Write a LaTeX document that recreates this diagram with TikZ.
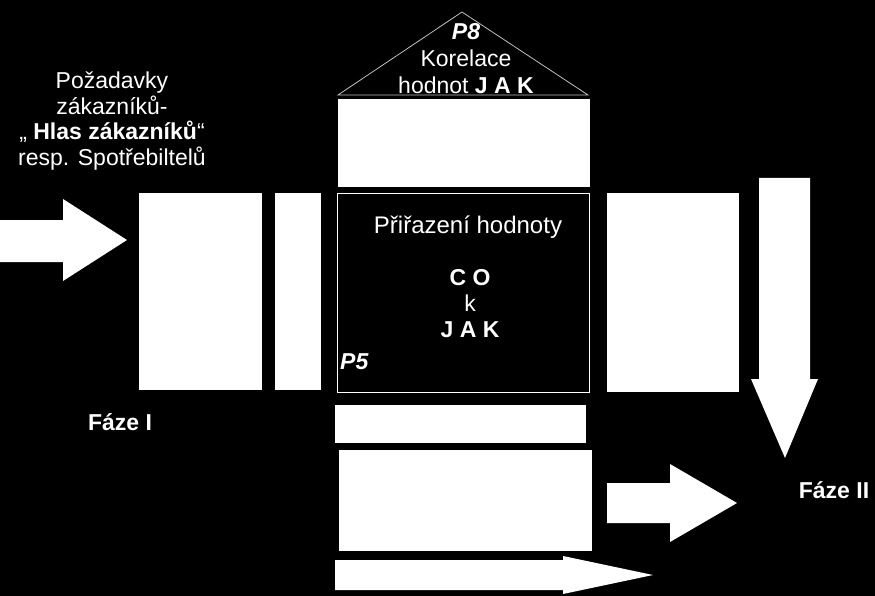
\documentclass[tikz,border=0pt]{standalone}
\usepackage{fontspec}
\setmainfont{Liberation Sans}
\usepackage{tikz}
\usetikzlibrary{positioning}

\begin{document}
\begin{tikzpicture}[x=1pt, y=-1pt,
  font=\fontsize{23}{25.5}\selectfont,
  box/.style={fill=white, inner sep=0pt, outer sep=0pt, anchor=north west},
  frame/.style={draw=white, line width=0.8pt, fill=black, inner sep=0pt, outer sep=0pt, anchor=north west},
  txt/.style={text=white, align=center, inner sep=0pt},
  blk/.style={fill=white}]
\fill[black] (0,0) rectangle (875,596);
\useasboundingbox (0,0) rectangle (875,596);
% roof
\draw[draw=white!75!black, line width=0.8pt, fill=black] (338,95) -- (462,12) -- (588,95) -- cycle;
\node[txt, font=\fontsize{23}{27}\selectfont] (roof) at (466,59)
  {\textbf{\textit{P8}}\\Korelace\\hodnot \textbf{J A K}};
% house body
\node[box, minimum width=252pt, minimum height=88pt] (hodnoty) at (338,99) {};
\node[frame, minimum width=252pt, minimum height=199pt] (matice) at (337,193) {};
\node[txt, font=\fontsize{24}{26}\selectfont] (prirazeni) at (468,227) {Přiřazení hodnoty};
\node[txt, font=\fontsize{23}{26}\selectfont] (cojak) at (470,304) {\textbf{C O}\\k\\\textbf{J A K}};
\node[txt, anchor=west] (p5) at (340,362) {\textbf{\textit{P5}}};
\node[box, minimum width=123pt, minimum height=197pt] (pozad) at (139,193) {};
\node[box, minimum width=46pt, minimum height=197pt] (vaha) at (275,193) {};
\node[box, minimum width=132pt, minimum height=199pt] (konk) at (607,193) {};
\node[box, minimum width=251pt, minimum height=38pt] (cile) at (335,405) {};
\node[box, minimum width=253pt, minimum height=101pt] (tech) at (339,450) {};
% labels
\node[txt] (hlas) at (112,121)
  {Požadavky\\zákazníků-\\„ \textbf{Hlas zákazníků}“\\resp. Spotřebiltelů};
\node[txt] (faze1) at (120,422) {\textbf{Fáze I}};
\node[txt] (faze2) at (834,490) {\textbf{Fáze II}};
% block arrows
\fill[blk] (0,220) -- (63,220) -- (63,199) -- (127,240) -- (63,281) -- (63,262) -- (0,262) -- cycle;
\fill[blk] (759,178) -- (810,178) -- (810,379) -- (818,379) -- (785,458) -- (751,379) -- (759,379) -- cycle;
\fill[blk] (607,483) -- (670,483) -- (670,464) -- (737,503) -- (670,542) -- (670,523) -- (607,523) -- cycle;
\fill[blk] (335,560) -- (563,560) -- (563,556) -- (653,575) -- (563,594) -- (563,590) -- (335,590) -- cycle;
\end{tikzpicture}
\end{document}
